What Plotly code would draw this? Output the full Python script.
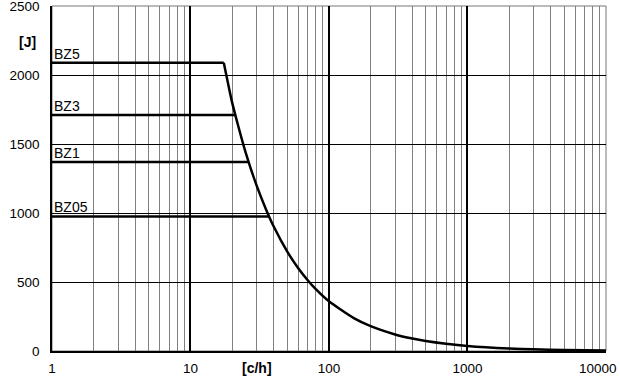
import plotly.graph_objects as go
import math

# Curve data (cycles per hour vs energy in J)
curve_n = [17.4, 20, 22, 25, 30, 35, 40, 50, 60, 70, 80, 100, 150, 200, 300, 400, 500, 700, 1000, 2000, 3000, 5000, 10000]
curve_e = [2090, 1800, 1640, 1440, 1200, 1030, 900, 720, 600, 515, 450, 360, 240, 180, 120, 90, 72, 52, 36, 18, 12, 7, 4]

# Brake levels
bz_names = ["BZ5", "BZ3", "BZ1", "BZ05"]
bz_energy = [2090, 1710, 1370, 975]
bz_end_n = [17.4, 21, 26.2, 37]

x_ticks = [1, 10, 100, 1000, 10000]
x_tick_text = ["1", "10", "100", "1000", "10000"]
x_minor = [m * d for d in [1, 10, 100, 1000] for m in range(2, 10)]
y_ticks = [0, 500, 1000, 1500, 2000, 2500]

FONT = "Liberation Sans, Arial, sans-serif"

fig = go.Figure()

for name, e, n_end in zip(bz_names, bz_energy, bz_end_n):
    fig.add_trace(go.Scatter(x=[1, n_end], y=[e, e], mode="lines",
                             line=dict(color="black", width=2.5),
                             showlegend=False, hoverinfo="skip"))
    fig.add_annotation(x=0, y=e, text=name, showarrow=False,
                       xanchor="left", yanchor="bottom", xshift=0, yshift=-1,
                       font=dict(family=FONT, size=14, color="black"))

fig.add_trace(go.Scatter(x=curve_n, y=curve_e, mode="lines",
                         line=dict(color="black", width=2.5, shape="spline", smoothing=0.6),
                         showlegend=False))

fig.add_annotation(xref="paper", yref="y", x=-0.045, y=2240, text="<b>[J]</b>",
                   xanchor="center", yanchor="middle",
                   showarrow=False, font=dict(family=FONT, size=14, color="black"))
fig.add_annotation(xref="x", yref="paper", x=math.log10(30), y=0, yshift=-17,
                   xanchor="center", yanchor="middle",
                   text="<b>[c/h]</b>", showarrow=False,
                   font=dict(family=FONT, size=14, color="black"))
# last tick label, kept inside the page (right-aligned at the edge as in the reference)
fig.add_annotation(xref="paper", yref="paper", x=1, y=0, xshift=13, yshift=-17,
                   xanchor="right", yanchor="middle", text=x_tick_text[-1],
                   showarrow=False, font=dict(family=FONT, size=13.5, color="black"))

fig.add_shape(type="rect", xref="paper", yref="paper", x0=0, y0=0, x1=1, y1=1,
              line=dict(color="#777", width=1), layer="below")

fig.update_layout(
    width=620, height=377,
    margin=dict(l=52, r=14, t=6, b=26),
    paper_bgcolor="white", plot_bgcolor="white",
    font=dict(family=FONT, size=13.5, color="black"),
    xaxis=dict(type="log", range=[0, 4.0005], tickvals=x_ticks,
               ticktext=x_tick_text[:-1] + [""],
               showgrid=True, gridcolor="black", gridwidth=2,
               showline=True, linecolor="black", linewidth=2,
               ticks="", ticklen=0, zeroline=False, ticklabelstandoff=4,
               ticklabeloverflow="allow", automargin=False,
               minor=dict(tickvals=x_minor, showgrid=True, gridcolor="#808080", gridwidth=1, ticks="")),
    yaxis=dict(range=[0, 2500.5], tickvals=y_ticks,
               showgrid=True, gridcolor="black", gridwidth=1,
               showline=True, linecolor="black", linewidth=1.5,
               ticks="", zeroline=False, ticklabelstandoff=8,
               ticklabeloverflow="allow", automargin=False),
)

fig.write_html("out.html", config={"displayModeBar": False},
               post_script="document.body.style.margin='0';document.body.style.padding='0';")
